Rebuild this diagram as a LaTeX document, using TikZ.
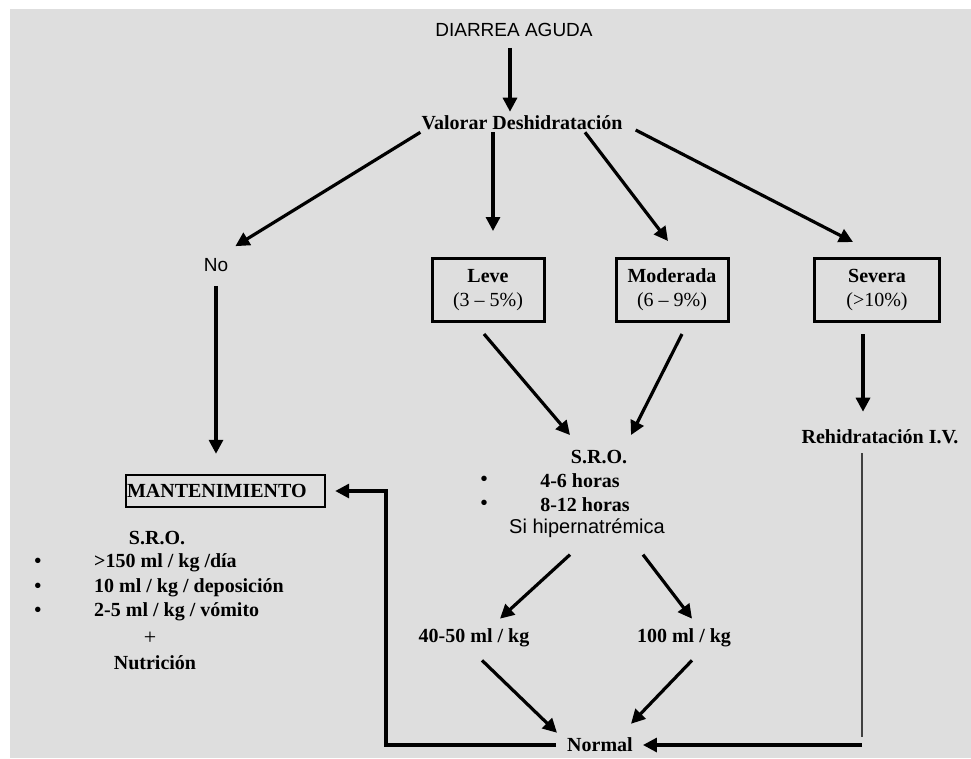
\documentclass[tikz,border=0pt]{standalone}
\usepackage{fontspec}
\setmainfont{Liberation Serif}
\newfontfamily\arial{Liberation Sans}
\usetikzlibrary{arrows.meta,calc}

\tikzset{
  txt/.style={inner sep=1pt,font=\fontsize{20}{24}\selectfont\bfseries},
  sanstxt/.style={inner sep=1pt,font=\fontsize{19}{23}\selectfont\arial},
  gradebox/.style={txt,draw,line width=3pt,minimum height=63pt,align=center},
  arr/.style={line width=3.2pt,-{Triangle[length=14pt,width=14pt]}},
  thinln/.style={line width=1.6pt,draw=black!75}
}

\begin{document}
\begin{tikzpicture}[x=1pt,y=-1pt]
\useasboundingbox (0,0) rectangle (971,758);
\fill[black!13] (10,9) rectangle (971,758);

% top
\node[sanstxt] (diarrea) at (514,30) {DIARREA AGUDA};
\node[txt] (valorar) at (522,123) {Valorar Deshidratación};
\node[sanstxt] (no) at (216,265) {No};

% grades
\node[gradebox,minimum width=112pt] (leve) at (488,290) {Leve\\{\mdseries (3 -- 5\%)}};
\node[gradebox,minimum width=112pt] (moderada) at (672,290) {Moderada\\{\mdseries (6 -- 9\%)}};
\node[gradebox,minimum width=125pt] (severa) at (877,290) {Severa\\{\mdseries (>10\%)}};

% treatment
\node[txt] (sro) at (599,457) {S.R.O.};
\node[txt] (b1) at (484,481) {\textbullet};
\node[txt] (h46) at (580,481) {4-6 horas};
\node[txt] (b2) at (484,505) {\textbullet};
\node[txt] (h812) at (585,505) {8-12 horas};
\node[sanstxt,font=\fontsize{20}{24}\selectfont\arial] (hiper) at (587,528) {Si hipernatrémica};
\node[txt] (rehid) at (880,437) {Rehidratación I.V.};
\node[txt] (ml40) at (474,638) {40-50 ml / kg};
\node[txt] (ml100) at (684,638) {100 ml / kg};
\node[txt] (normal) at (600,745) {Normal};

% maintenance
\node[txt,draw,line width=2.4pt,inner xsep=1pt,minimum height=32pt,text width=197pt,align=left] (mant) at (225.5,491) {MANTENIMIENTO};
\node[txt] (msro) at (157,538) {S.R.O.};
\node[txt] (m1) at (38,563) {\textbullet};
\node[txt,anchor=west] (d1) at (93,563) {>150 ml / kg /día};
\node[txt] (m2) at (38,588) {\textbullet};
\node[txt,anchor=west] (d2) at (93,588) {10 ml / kg / deposición};
\node[txt] (m3) at (38,612) {\textbullet};
\node[txt,anchor=west] (d3) at (93,612) {2-5 ml / kg / vómito};
\node[txt,font=\fontsize{22}{24}\selectfont] (plus) at (150,638) {+};
\node[txt] (nutri) at (155,663) {Nutrición};
\coordinate (loopL) at (386,491);
\coordinate (loopR) at (862,745);

% arrows
\draw[arr] (diarrea.south) ++(-4,10) -- ($(valorar.north)+(-12,-3)$);
\draw[arr] ($(valorar.south west)+(0,1)$) -- ($(no.north east)+(6,-11)$);
\draw[arr] ($(valorar.south)+(-29,1)$) -- ($(leve.north)+(5,-26)$);
\draw[arr] ($(valorar.south)+(63,1)$) -- ($(moderada.north)+(-4,-16)$);
\draw[arr] ($(valorar.east)+(12,7)$) -- ($(severa.north)+(-24,-15)$);
\draw[arr] ($(no.south)+(0,13)$) -- ($(no.south |- mant.north)+(0,-20)$);
\draw[arr] ($(leve.south)+(-4,11)$) -- ($(sro.north)+(-29,-14)$);
\draw[arr] ($(moderada.south)+(10,11)$) -- ($(sro.north)+(32,-14)$);
\draw[arr] ($(severa.south)+(-14,11)$) -- ($(rehid.north)+(-17,-17)$);
\draw[arr] ($(hiper.south)+(-17,16)$) -- ($(ml40.north)+(26,-9)$);
\draw[arr] ($(hiper.south)+(56,16)$) -- ($(ml100.north)+(8,-9)$);
\draw[arr] ($(ml40.south)+(8,12)$) -- ($(normal.north)+(-43,-4)$);
\draw[arr] ($(ml100.south)+(8,12)$) -- ($(normal.north)+(31,-13)$);
\draw[thinln] ($(rehid.south)+(-18,8)$) -- ($(loopR)+(0,-8)$);
\draw[arr,shorten >=9pt] (loopR) -- (normal.east);
\draw[arr,shorten <=10pt,shorten >=9pt] (normal.west) -| (loopL) -- (mant.east);
\end{tikzpicture}
\end{document}
